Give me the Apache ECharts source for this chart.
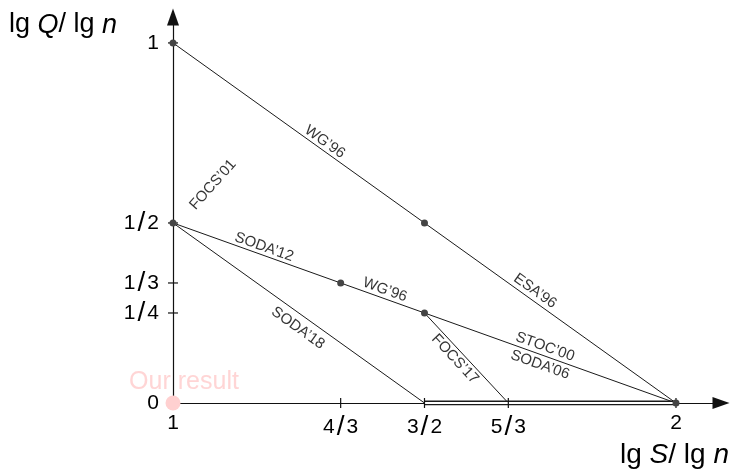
<!DOCTYPE html>
<html><head><meta charset="utf-8">
<script src="https://cdn.jsdelivr.net/npm/echarts@6/dist/echarts.min.js"></script>
<style>html,body{margin:0;padding:0;background:#fff}#c{width:732px;height:469px}</style>
</head><body><div id="c"></div>
<script>
// ---- data ----
const xTickValues = [1, 4/3, 3/2, 5/3, 2];
const xTickLabels = ['1', '4/3', '3/2', '5/3', '2'];
const yTickValues = [0, 1/4, 1/3, 1/2, 1];
const yTickLabels = ['0', '1/4', '1/3', '1/2', '1'];
const keyPoints = [[1, 1], [1, 1/2], [4/3, 1/3], [3/2, 1/2], [3/2, 1/4], [2, 0]];
const segments = [
  [[1, 1], [2, 0]],
  [[1, 1/2], [4/3, 1/3]],
  [[4/3, 1/3], [3/2, 1/4]],
  [[3/2, 1/4], [2, 0]],
  [[1, 1/2], [3/2, 0]],
  [[3/2, 1/4], [5/3, 0]]
];
const doubleSegment = [[3/2, 0], [2, 0]];
const ourResult = [[1, 0]];
const labelNames = ['WG’96', 'ESA’96', 'FOCS’01', 'SODA’12', 'WG’96', 'SODA’18', 'FOCS’17', 'STOC’00', 'SODA’06'];
const labelX = [1.302, 1.72, 1.0795, 1.181, 1.4215, 1.2485, 1.5606, 1.7396, 1.7296];
const labelY = [0.725, 0.311, 0.606, 0.433, 0.314, 0.208, 0.122, 0.156, 0.106];
const labelAngle = [-35.6, -35.6, 48, -19.7, -19.7, -35.6, -47, -19.7, -19.7];

// ---- chart ----
const FONT = 'Liberation Sans';
const chart = echarts.init(document.getElementById('c'), null, {renderer: 'canvas'});
function fracLabel(vals, labs) {
  return function (v) {
    const i = vals.findIndex(t => Math.abs(t - v) < 1e-6);
    if (i < 0) return '';
    const s = labs[i];
    if (s.indexOf('/') < 0) return '{d|' + s + '}';
    const p = s.split('/');
    return '{d|' + p[0] + '}{s|/}{d|' + p[1] + '}';
  };
}
const richFrac = {
  d: {fontSize: 21, fontFamily: FONT, color: '#000'},
  s: {fontSize: 28, fontFamily: FONT, color: '#000', padding: [0, 2, 0, 2]}
};
const series = [];
segments.forEach(seg => {
  series.push({type: 'line', data: seg, symbol: 'none', silent: true,
    lineStyle: {color: '#1a1a1a', width: 1}, z: 3});
});
series.push({type: 'line', data: doubleSegment, symbol: 'none', silent: true,
  lineStyle: {color: '#1a1a1a', width: 5}, z: 3});
series.push({type: 'line', data: doubleSegment, symbol: 'none', silent: true,
  lineStyle: {color: '#ffffff', width: 2}, z: 3});
// crossing ticks
series.push({type: 'scatter', data: xTickValues.map(v => [v, 0]), symbol: 'rect',
  symbolSize: [1.2, 10], itemStyle: {color: '#111', opacity: 1}, silent: true, z: 3});
series.push({type: 'scatter', data: yTickValues.map(v => [1, v]), symbol: 'rect',
  symbolSize: [10, 1.2], itemStyle: {color: '#111', opacity: 1}, silent: true, z: 3});
// line labels
series.push({type: 'scatter', symbolSize: 0, silent: true, z: 4,
  data: labelNames.map((n, i) => ({value: [labelX[i], labelY[i]], name: n,
    label: {rotate: labelAngle[i]}})),
  label: {show: true, position: 'inside', formatter: '{b}', fontSize: 15,
    fontFamily: FONT, color: '#000'}});
// key points
series.push({type: 'scatter', data: keyPoints, symbol: 'circle', symbolSize: 7,
  itemStyle: {color: '#444', opacity: 1}, silent: true, z: 5});
// our result text (below axis)
series.push({type: 'scatter', data: ourResult, symbolSize: 0, silent: true, z: -1,
  label: {show: true, position: 'inside', offset: [11, -21], formatter: 'Our result',
    fontSize: 25, fontFamily: FONT, color: '#ffcaca'}});
// our result point
series.push({type: 'scatter', data: ourResult, symbol: 'circle', symbolSize: 15,
  itemStyle: {color: '#ffd0d0', opacity: 1}, silent: true, z: 6});

chart.setOption({
  animation: false,
  backgroundColor: '#fff',
  grid: {left: 173, right: 11, top: 17, bottom: 66, containLabel: false},
  xAxis: {
    type: 'value', min: 1, max: 2.0895,
    name: 'lg {i|S}/ lg {i|n}', nameLocation: 'end', nameGap: 8,
    nameTextStyle: {fontSize: 28, fontFamily: FONT, color: '#000', align: 'right',
      verticalAlign: 'top', padding: [38, 0, 0, 0],
      rich: {i: {fontSize: 28, fontFamily: FONT, fontStyle: 'italic', color: '#000'}}},
    axisLine: {show: true, onZero: false, symbol: ['none', 'triangle'], symbolSize: [12, 17],
      lineStyle: {color: '#111', width: 1.2}},
    axisTick: {show: false},
    splitLine: {show: false},
    axisLabel: {customValues: xTickValues, formatter: fracLabel(xTickValues, xTickLabels),
      margin: 10, rich: richFrac}
  },
  yAxis: {
    type: 'value', min: 0, max: 1.072,
    name: 'lg {i|Q}/ lg {i|n}', nameLocation: 'end', nameGap: 0,
    nameTextStyle: {fontSize: 27, fontFamily: FONT, color: '#000', align: 'right',
      verticalAlign: 'middle', padding: [16, 56, 0, 0],
      rich: {i: {fontSize: 27, fontFamily: FONT, fontStyle: 'italic', color: '#000'}}},
    axisLine: {show: true, onZero: false, symbol: ['none', 'triangle'], symbolSize: [12, 17],
      lineStyle: {color: '#111', width: 1.2}},
    axisTick: {show: false},
    splitLine: {show: false},
    axisLabel: {customValues: yTickValues, formatter: fracLabel(yTickValues, yTickLabels),
      margin: 14, rich: richFrac}
  },
  series: series
});
</script>
</body></html>
